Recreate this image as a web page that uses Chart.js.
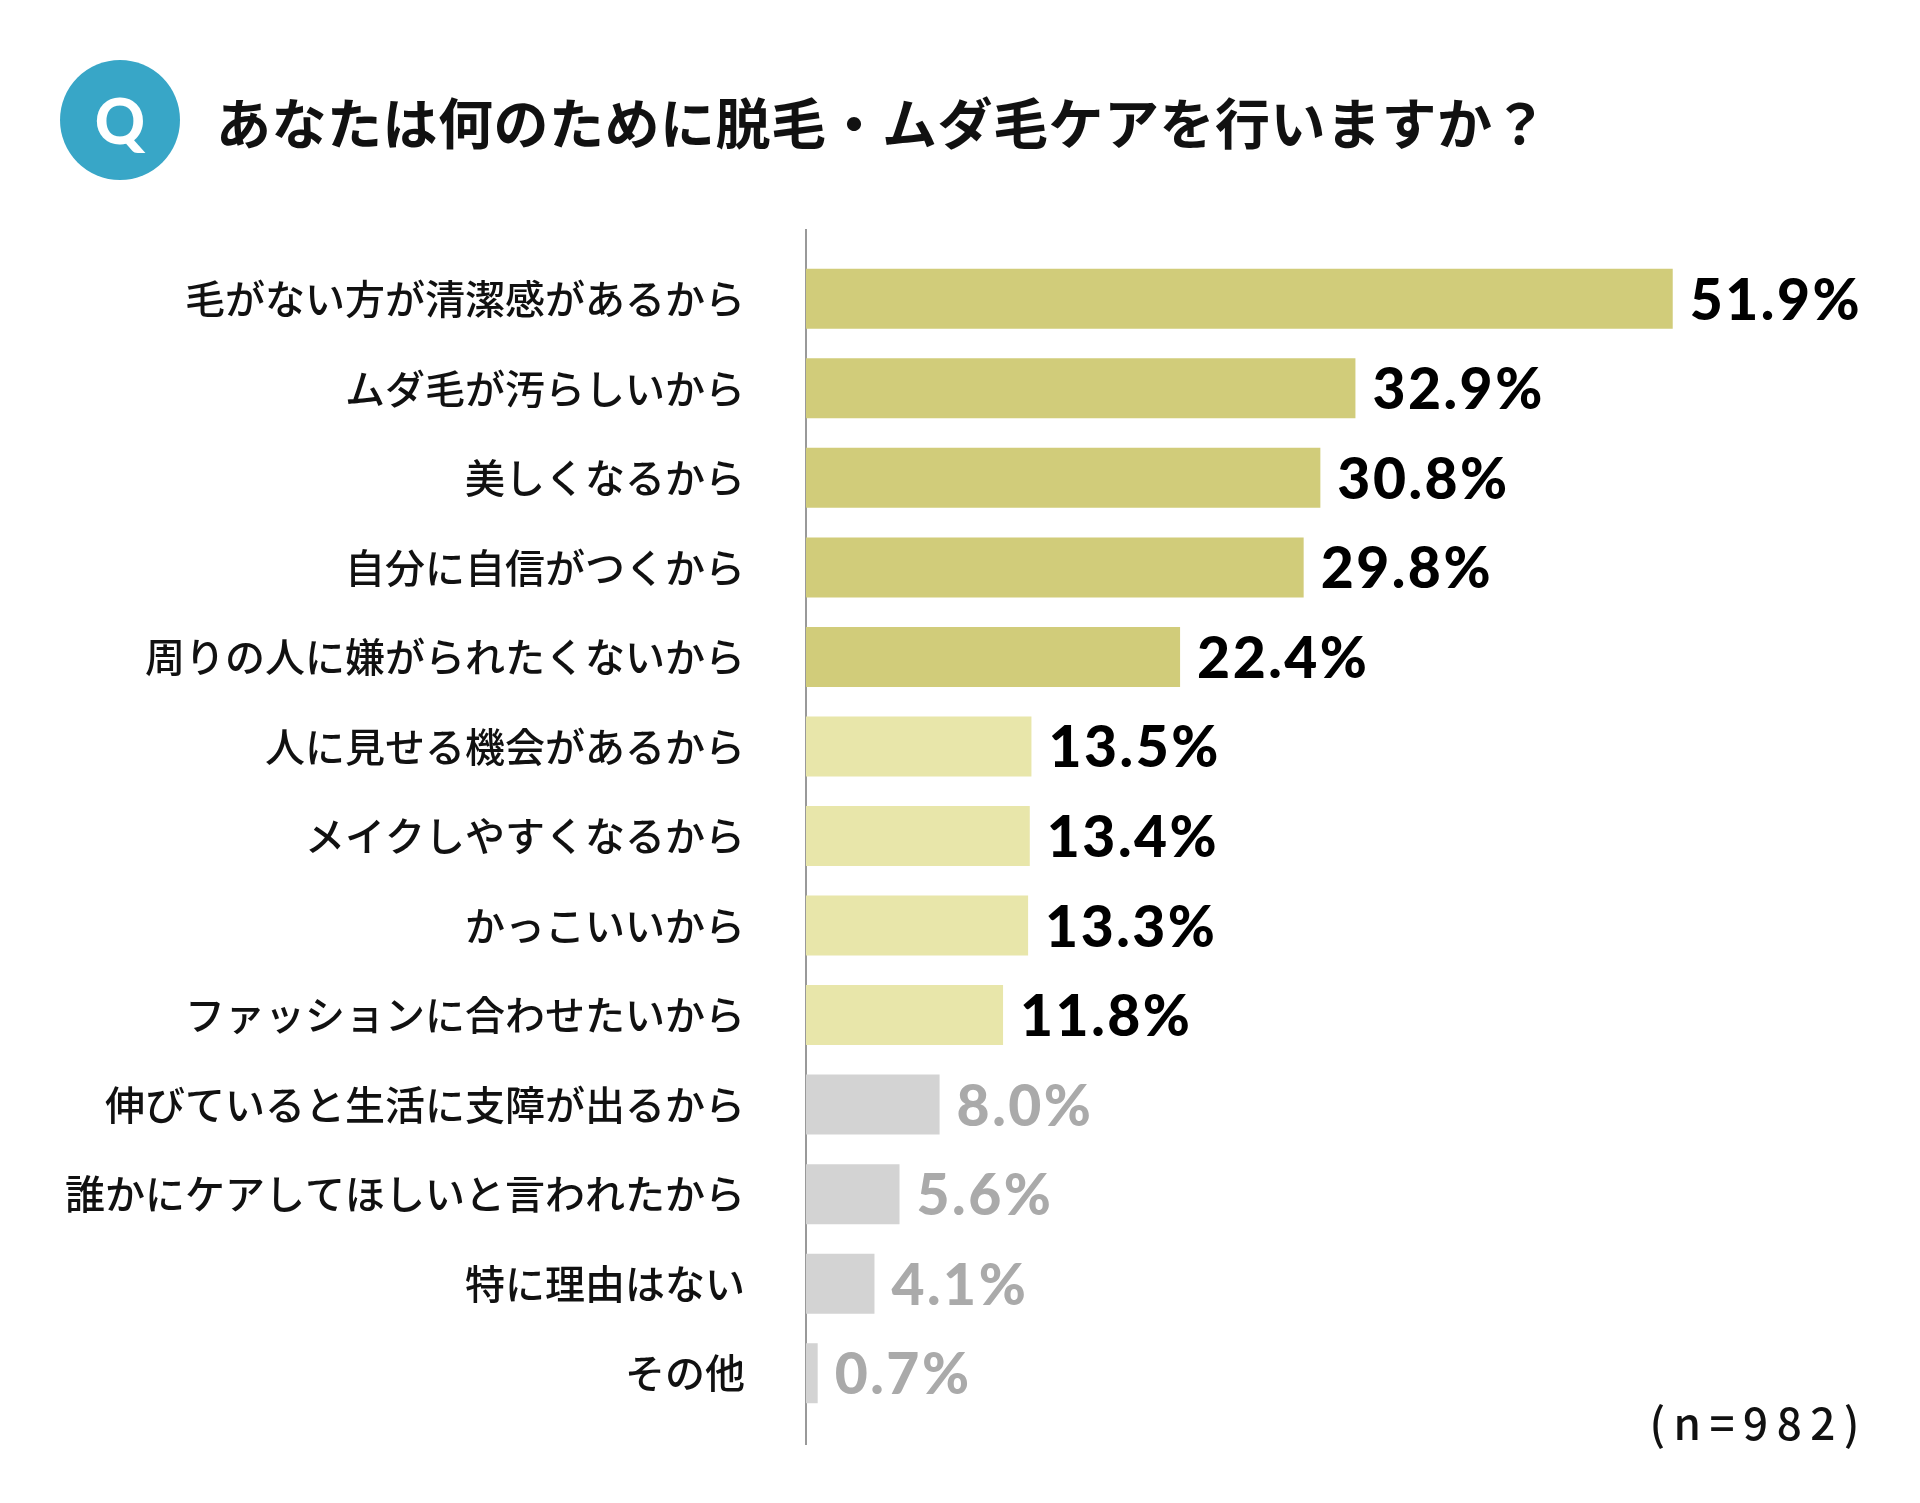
<!DOCTYPE html>
<html lang="ja">
<head>
<meta charset="utf-8">
<script src="https://cdn.jsdelivr.net/npm/chart.js@4.4.1/dist/chart.umd.min.js"></script>
<style>
  html, body { margin: 0; padding: 0; background: #ffffff; }
  #wrap { position: relative; width: 1920px; height: 1503px; overflow: hidden; }
  #chart { position: absolute; left: 0; top: 0; }
  #qmark {
    position: absolute; left: 60px; top: 60px; width: 120px; height: 120px;
    border-radius: 50%; background: #38a6c7; color: #fff;
    font-family: "Lato", sans-serif; font-weight: 900; font-size: 62px;
    display: flex; align-items: center; justify-content: center; line-height: 1;
  }
  #title {
    position: absolute; left: 216px; top: 87px; margin: 0;
    font-family: "Noto Sans CJK JP", sans-serif; font-weight: 700; font-size: 55px;
    line-height: 66px; color: #111; letter-spacing: 0.5px; white-space: nowrap;
  }
  #note {
    position: absolute; right: 52px; top: 1396px;
    font-family: "Noto Sans CJK JP", sans-serif; font-weight: 500; font-size: 44px;
    line-height: 50px; color: #111; letter-spacing: 8.5px; white-space: nowrap;
  }
</style>
</head>
<body>
<div id="wrap">
  <canvas id="chart" width="1920" height="1503"></canvas>
  <div id="qmark">Q</div>
  <h1 id="title">あなたは何のために脱毛・ムダ毛ケアを行いますか？</h1>
  <div id="note">(n=982)</div>
</div>
<script>
const categories = [
  "毛がない方が清潔感があるから",
  "ムダ毛が汚らしいから",
  "美しくなるから",
  "自分に自信がつくから",
  "周りの人に嫌がられたくないから",
  "人に見せる機会があるから",
  "メイクしやすくなるから",
  "かっこいいから",
  "ファッションに合わせたいから",
  "伸びていると生活に支障が出るから",
  "誰かにケアしてほしいと言われたから",
  "特に理由はない",
  "その他"
];
const values = [51.9, 32.9, 30.8, 29.8, 22.4, 13.5, 13.4, 13.3, 11.8, 8.0, 5.6, 4.1, 0.7];
const valueLabels = ["51.9%", "32.9%", "30.8%", "29.8%", "22.4%", "13.5%", "13.4%", "13.3%", "11.8%", "8.0%", "5.6%", "4.1%", "0.7%"];

const DARK = "#d1cc7a", LIGHT = "#e8e6aa", GRAY = "#d3d3d3";
function barColor(i) { return i < 5 ? DARK : (i < 9 ? LIGHT : GRAY); }
function labelColor(i) { return i < 9 ? "#000000" : "#aaaaaa"; }

const AXIS_LEFT = 806;

const decor = {
  id: "decor",
  beforeDatasetsDraw(chart) {
    const ctx = chart.ctx, a = chart.chartArea;
    const x0 = chart.scales.x.getPixelForValue(0);
    ctx.save();
    ctx.strokeStyle = "#999999";
    ctx.lineWidth = 2;
    ctx.beginPath();
    ctx.moveTo(x0, a.top - 25);
    ctx.lineTo(x0, a.bottom + 27);
    ctx.stroke();
    ctx.restore();
  },
  afterDatasetsDraw(chart) {
    const ctx = chart.ctx;
    const meta = chart.getDatasetMeta(0);
    ctx.save();
    ctx.font = "900 57px Lato, sans-serif";
    try { ctx.letterSpacing = "2.5px"; } catch (e) {}
    ctx.textAlign = "left";
    ctx.textBaseline = "alphabetic";
    meta.data.forEach((bar, i) => {
      ctx.fillStyle = labelColor(i);
      ctx.fillText(valueLabels[i], bar.x + 17, bar.y + 21);
    });
    ctx.restore();
  }
};

new Chart(document.getElementById("chart"), {
  type: "bar",
  data: {
    labels: categories,
    datasets: [{
      data: values,
      backgroundColor: (c) => barColor(c.dataIndex),
      borderWidth: 0,
      barPercentage: 0.67,
      categoryPercentage: 1.0
    }]
  },
  options: {
    indexAxis: "y",
    responsive: false,
    animation: false,
    devicePixelRatio: 1,
    layout: { padding: { left: 0, right: 112, top: 254, bottom: 85 } },
    plugins: { legend: { display: false }, tooltip: { enabled: false }, title: { display: false } },
    scales: {
      x: {
        min: 0, max: 60,
        display: false,
        grid: { display: false }
      },
      y: {
        grid: { display: false, drawTicks: false },
        border: { display: false },
        ticks: {
          padding: 61,
          color: "#111111",
          font: { family: "'Noto Sans CJK JP', sans-serif", size: 40, weight: 500 }
        },
        afterFit(scale) { scale.width = AXIS_LEFT; }
      }
    }
  },
  plugins: [decor]
});
</script>
</body>
</html>
